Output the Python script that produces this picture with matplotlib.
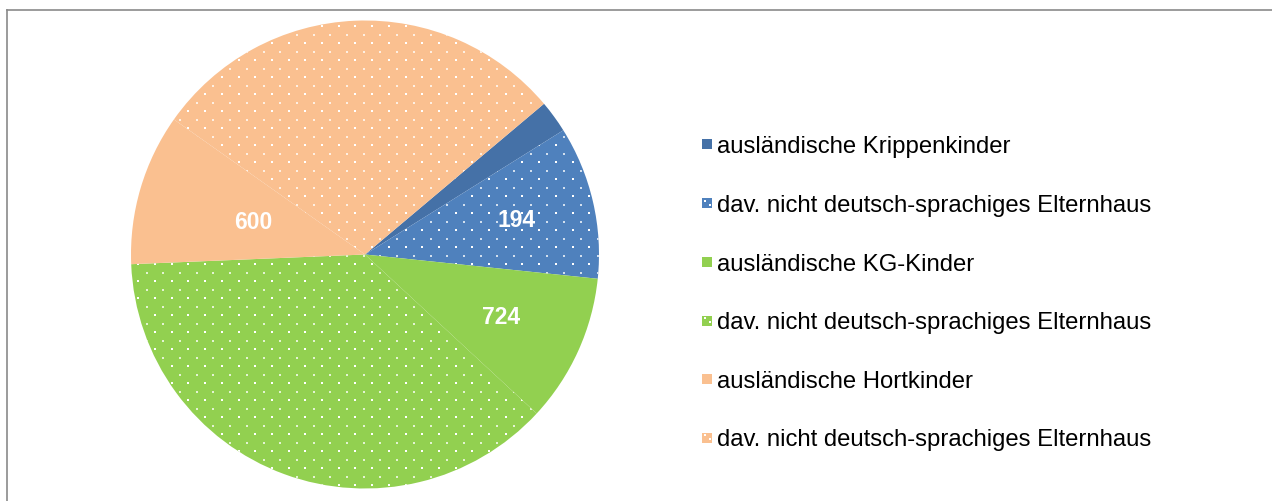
import numpy as np
import matplotlib
matplotlib.use("Agg")
import matplotlib.pyplot as plt
from matplotlib.patches import Rectangle
from matplotlib.lines import Line2D

# ---- data -------------------------------------------------------------
categories = [
    "ausländische Krippenkinder",
    "dav. nicht deutsch-sprachiges Elternhaus",
    "ausländische KG-Kinder",
    "dav. nicht deutsch-sprachiges Elternhaus",
    "ausländische Hortkinder",
    "dav. nicht deutsch-sprachiges Elternhaus",
]
values = [41, 194, 188, 688, 192, 534]
value_labels = ["", "194", "724", "", "600", ""]
colors = ["#4571A7", "#4F81BD", "#92D050", "#92D050", "#FAC090", "#FAC090"]
dotted = [False, True, False, True, False, True]

# ---- figure -----------------------------------------------------------
W, H = 1272, 502
DPI = 100
fig = plt.figure(figsize=(W / DPI, H / DPI), dpi=DPI)
fig.patch.set_facecolor("white")
plt.rcParams["font.family"] = ["Liberation Sans", "DejaVu Sans"]

# pie placed by pixel geometry: centre (365, 255.5), radius 234
cx, cy, R = 365.0, 255.5, 234.0
ax = fig.add_axes([(cx - R) / W, (H - cy - R) / H, 2 * R / W, 2 * R / H])
ax.axis("off")

wedges, _ = ax.pie(values, colors=colors, startangle=40.1, counterclock=False,
                   radius=1.0, center=(0, 0), frame=False,
                   wedgeprops=dict(linewidth=0, edgecolor="none"))
ax.set_xlim(-1, 1)
ax.set_ylim(-1, 1)
ax.set_aspect("auto")

# white dot pattern on the "davon" slices (staggered grid in pixel units)
def pix_to_data(px, py):
    return (px - cx) / R, (cy - py) / R

sx, sy = 16.7, 8.5
xs_b, ys_b, xs_d, ys_d = [], [], [], []
for j in range(-40, 40):
    py = 316 + sy * j
    off = 0.0 if j % 2 == 0 else sx / 2
    for k in range(-40, 40):
        px = 155 + off + sx * k
        if abs(px - cx) <= R + 5 and abs(py - cy) <= R + 5:
            xd, yd = pix_to_data(px, py)
            if j % 2 == 0:
                xs_b.append(xd); ys_b.append(yd)
            else:
                xs_d.append(xd); ys_d.append(yd)

for w, d in zip(wedges, dotted):
    if not d:
        continue
    s1 = ax.scatter(xs_b, ys_b, s=2.2, marker="s", color="white",
                    linewidths=0, zorder=3)
    s1.set_clip_path(w)
    s2 = ax.scatter(xs_d, ys_d, s=1.6, marker="s", color="white", alpha=0.75,
                    linewidths=0, zorder=3)
    s2.set_clip_path(w)

# value labels inside slices
label_radius = [0.66, 0.665, 0.64, 0.6, 0.50, 0.6]
for w, txt, rr in zip(wedges, value_labels, label_radius):
    if not txt:
        continue
    ang = np.deg2rad((w.theta1 + w.theta2) / 2)
    ax.text(rr * np.cos(ang), rr * np.sin(ang), txt, color="white",
            fontsize=16.5, fontweight="bold", ha="center", va="center", zorder=4)

# ---- legend (drawn in figure pixel coordinates) -----------------------
def fx(px):
    return px / W

def fy(py):
    return 1 - py / H

row_y = [145, 204, 263, 321.5, 380, 438.5]
for name, c, d, y in zip(categories, colors, dotted, row_y):
    fig.patches.append(Rectangle((fx(702), fy(y + 5)), 10 / W, 10 / H,
                                 transform=fig.transFigure, facecolor=c,
                                 edgecolor="none", figure=fig))
    if d:
        for (ddx, ddy) in [(2.5, 2.5), (7.5, 6.5)]:
            fig.patches.append(Rectangle((fx(702 + ddx - 1), fy(y - 5 + ddy + 1)),
                                         2 / W, 2 / H, transform=fig.transFigure,
                                         facecolor="white", edgecolor="none",
                                         figure=fig))
    fig.text(fx(717), fy(y + 2), name, fontsize=17.2, color="black",
             ha="left", va="center")

# chart border (top and left edges visible)
border = "#8A8A8A"
fig.add_artist(Line2D([fx(6.5), fx(W + 5)], [fy(10.5), fy(10.5)],
                      transform=fig.transFigure, color=border, linewidth=1.2))
fig.add_artist(Line2D([fx(6.5), fx(6.5)], [fy(10.5), fy(H + 5)],
                      transform=fig.transFigure, color=border, linewidth=1.2))

fig.savefig("out.png", dpi=DPI, facecolor="white")
